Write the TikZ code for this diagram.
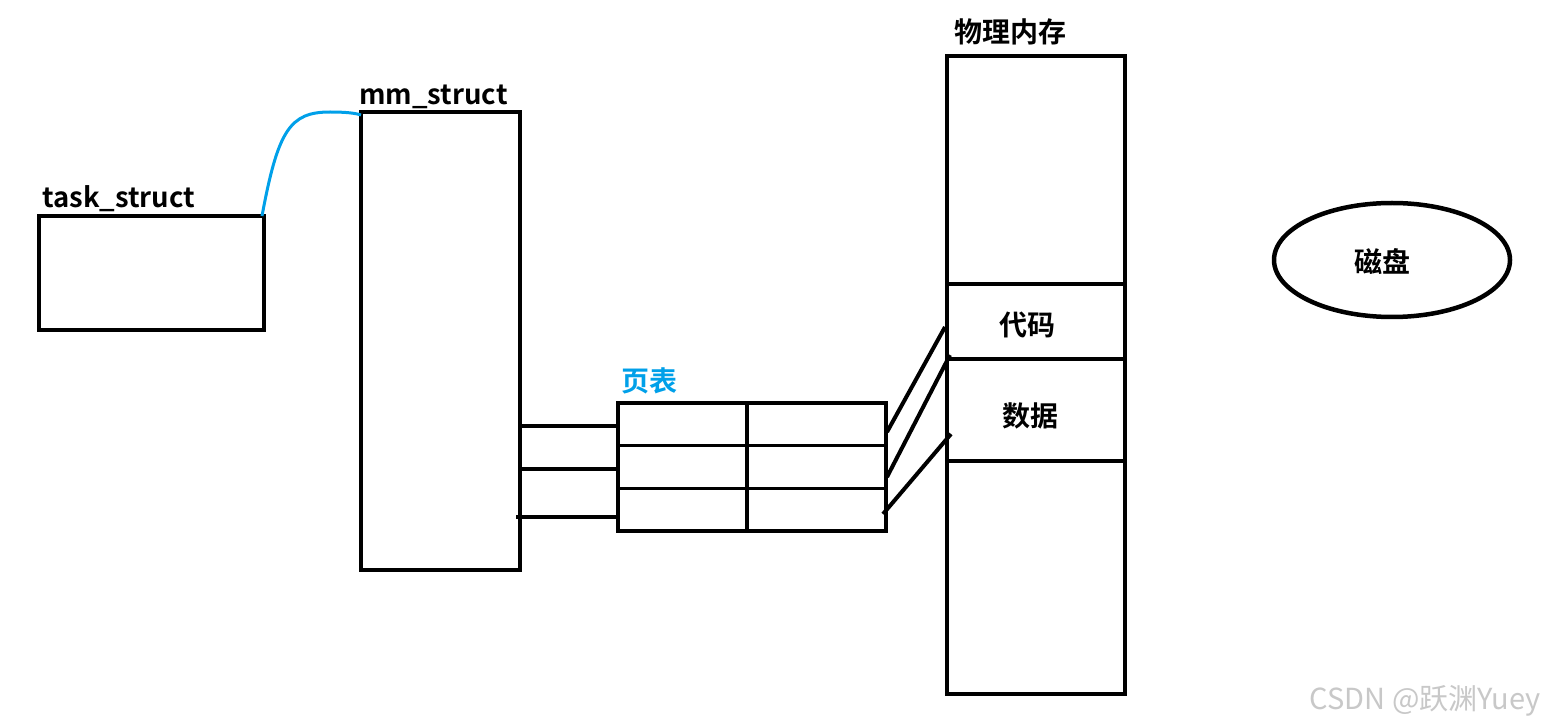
\documentclass[tikz,border=0pt]{standalone}
\usepackage{fontspec}
\setmainfont{Noto Sans CJK SC}
\newfontfamily\cjkb{Noto Sans CJK SC}[BoldFont={* Bold}]
\usetikzlibrary{shapes.geometric,calc}
\definecolor{tblue}{RGB}{0,160,233}
\definecolor{wm}{RGB}{200,200,200}
\tikzset{
  box/.style={draw, line width=4.5pt, outer sep=0pt, inner sep=0pt},
  inner/.style={line width=3.5pt},
  link/.style={line width=4pt},
  lbl/.style={inner sep=0pt, font=\cjkb\bfseries\fontsize{27.5}{32}\selectfont},
  clbl/.style={inner sep=0pt, font=\cjkb\bfseries\fontsize{28}{32}\selectfont},
}
\begin{document}
\begin{tikzpicture}[x=1pt,y=-1pt]
\useasboundingbox[fill=white] (0,0) rectangle (1545,727);
% boxes
\node[box, minimum width=225pt, minimum height=114pt] (task) at (151.5,273) {};
\node[box, minimum width=159pt, minimum height=458pt] (mm) at (440.5,341) {};
\node[box, minimum width=268pt, minimum height=128pt] (pt) at (752,467) {};
\node[box, minimum width=178pt, minimum height=638pt] (mem) at (1036,375) {};
\node[box, ellipse, minimum width=236pt, minimum height=114pt] (disk) at (1392,260) {};
% labels
\node[lbl, anchor=base west] (tasklbl) at (42,208) {task\_struct};
\node[lbl, anchor=base west] (mmlbl) at (359,105) {mm\_struct};
\node[clbl, text=tblue] (ptlbl) at (649,381) {页表};
\node[clbl] (memlbl) at (1010,32) {物理内存};
\node[clbl] (code) at (1027,325) {代码};
\node[clbl] (data) at (1030,416) {数据};
\node[clbl] (disklbl) at ([xshift=-10pt,yshift=-2pt]disk.center) {磁盘};
\node[font=\fontsize{29}{32}\selectfont, text=wm, anchor=east, inner sep=0pt] (wmark) at (1541,701) {CSDN @跃渊Yuey};
% page table interior
\draw[inner] ($(pt.north west)!0.4815!(pt.north east)$) -- ($(pt.south west)!0.4815!(pt.south east)$);
\draw[inner] ($(pt.north west)!0.333!(pt.south west)$) -- ($(pt.north east)!0.333!(pt.south east)$);
\draw[inner] ($(pt.north west)!0.667!(pt.south west)$) -- ($(pt.north east)!0.667!(pt.south east)$);
% memory dividers
\draw[link] ($(mem.north west)!0.357!(mem.south west)$) -- ($(mem.north east)!0.357!(mem.south east)$);
\draw[link] ($(mem.north west)!0.475!(mem.south west)$) -- ($(mem.north east)!0.475!(mem.south east)$);
\draw[link] ($(mem.north west)!0.635!(mem.south west)$) -- ($(mem.north east)!0.635!(mem.south east)$);
% blue link
\draw[line width=3pt, tblue] ([xshift=-2pt]task.north east) .. controls (278,130) and (290,112) .. (330,112) .. controls (345,112) and (355,113) .. ([yshift=-3pt]mm.north west);
% mm -> page table
\draw[link] (mm.east |- 0,426) -- (pt.west |- 0,426);
\draw[link] (mm.east |- 0,469) -- (pt.west |- 0,469);
\draw[link] ([xshift=-4pt]mm.east |- 0,517) -- (pt.west |- 0,517);
% page table -> memory
\draw[link] ([xshift=1pt]pt.east |- 0,432) -- ([xshift=-2pt]mem.west |- 0,327);
\draw[link] ([xshift=1pt]pt.east |- 0,477) -- ([xshift=3pt]mem.west |- 0,355);
\draw[link] ([xshift=-3pt]pt.east |- 0,514) -- ([xshift=4pt]mem.west |- 0,434);
\end{tikzpicture}
\end{document}
